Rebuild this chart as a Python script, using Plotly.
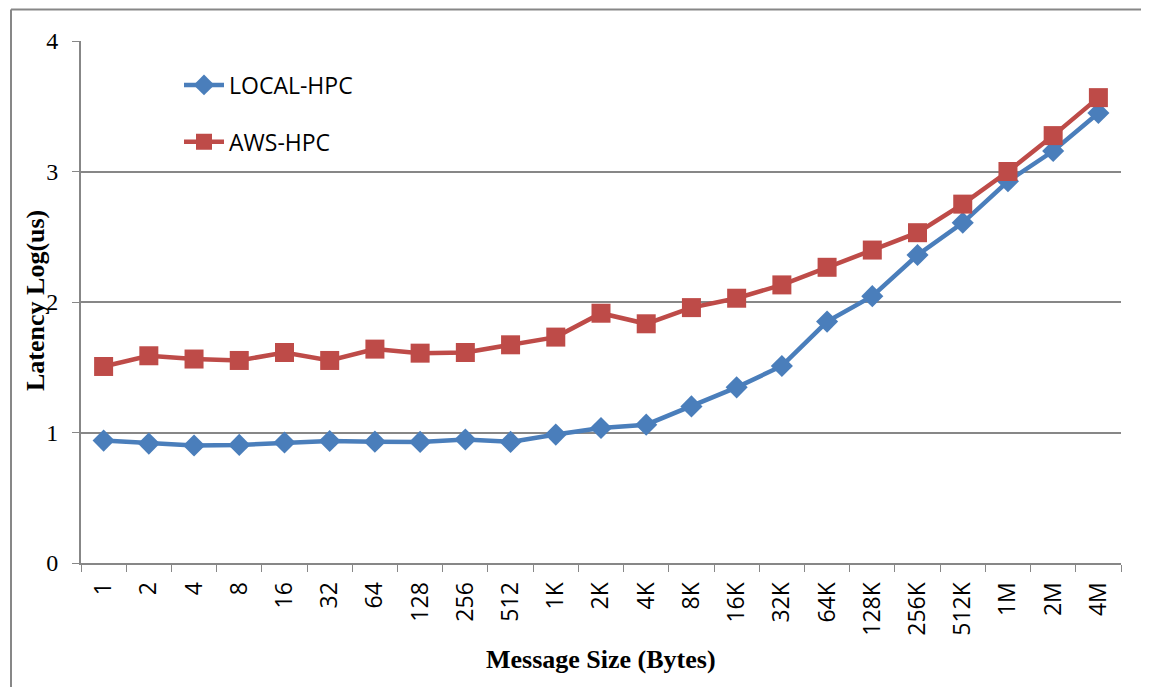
import plotly.graph_objects as go

categories = ["1", "2", "4", "8", "16", "32", "64", "128", "256", "512",
              "1K", "2K", "4K", "8K", "16K", "32K", "64K", "128K", "256K",
              "512K", "1M", "2M", "4M"]
local_hpc = [0.938, 0.915, 0.90, 0.905, 0.923, 0.935, 0.93, 0.928, 0.946, 0.928,
             0.984, 1.035, 1.06, 1.20, 1.346, 1.51, 1.85, 2.045, 2.36,
             2.607, 2.925, 3.157, 3.448]
aws_hpc = [1.506, 1.588, 1.563, 1.552, 1.613, 1.552, 1.639, 1.608, 1.613, 1.672,
           1.731, 1.914, 1.833, 1.957, 2.029, 2.131, 2.266, 2.398, 2.531,
           2.75, 3.0, 3.275, 3.566]
y_ticks = [0, 1, 2, 3, 4]

BLUE = "#4A7EBB"
RED = "#BE4B48"
GRID = "#878787"
SANS = "Open Sans, Noto Sans, sans-serif"
SERIF = "Liberation Serif, Times New Roman, serif"

fig = go.Figure()
fig.add_trace(go.Scatter(
    x=categories, y=local_hpc, name="LOCAL-HPC", mode="lines+markers",
    legendgroup="a",
    line=dict(color=BLUE, width=4.5),
    marker=dict(symbol="diamond", size=17, color=BLUE),
))
fig.add_trace(go.Scatter(
    x=categories, y=aws_hpc, name="AWS-HPC", mode="lines+markers",
    legendgroup="b",
    line=dict(color=RED, width=4.5),
    marker=dict(symbol="square", size=19, color=RED),
))

# page body has an 8px margin; figure sized to fit the window without scrollbars
W, H = 1133, 679
L, T = 73, 32.5
pw, ph = 1040, 523
R = W - L - pw
B = H - T - ph

fig.update_layout(
    width=W, height=H,
    margin=dict(l=L, r=R, t=T, b=B, autoexpand=False),
    paper_bgcolor="white", plot_bgcolor="white",
    showlegend=True,
    legend=dict(
        x=(171 - L) / pw, y=1 - (55 - T) / ph, xanchor="left", yanchor="top",
        font=dict(family=SANS, size=23, color="black"),
        bgcolor="rgba(0,0,0,0)", tracegroupgap=24, itemwidth=40,
    ),
    xaxis=dict(
        type="category", categoryorder="array", categoryarray=categories,
        tickangle=-90, ticks="outside", ticklen=7, tickcolor=GRID,
        tickson="boundaries", ticklabelstandoff=8,
        showline=True, linecolor=GRID, linewidth=2,
        showgrid=False, zeroline=False,
        tickfont=dict(family=SANS, size=23, color="black"),
        range=[-0.5, len(categories) - 0.5],
    ),
    yaxis=dict(
        range=[0, 4], tickvals=y_ticks, ticks="outside", ticklen=7, tickcolor=GRID,
        ticklabelstandoff=9,
        showline=True, linecolor=GRID, linewidth=2,
        showgrid=True, gridcolor=GRID, gridwidth=2, zeroline=False,
        tickfont=dict(family=SERIF, size=24, color="black"),
    ),
    annotations=[
        dict(text="<b>Message Size (Bytes)</b>", xref="paper", yref="paper",
             x=(593 - L) / pw, y=(T + ph - 652) / ph, xanchor="center", yanchor="middle",
             showarrow=False, font=dict(family=SERIF, size=26, color="black")),
        dict(text="<b>Latency Log(us)</b>", xref="paper", yref="paper",
             x=(27 - L) / pw, y=1 - (293 - T) / ph, xanchor="center", yanchor="middle",
             textangle=-90, showarrow=False,
             font=dict(family=SERIF, size=26, color="black")),
    ],
)

# outer chart frame (left and top edges visible)
fx0 = (3 - L) / pw
fy1 = 1 + (T - 1) / ph
fig.add_shape(type="line", xref="paper", yref="paper", x0=fx0, x1=fx0, y0=fy1, y1=-0.5,
              line=dict(color=GRID, width=2))
fig.add_shape(type="line", xref="paper", yref="paper", x0=fx0, x1=1 + R / pw, y0=fy1, y1=fy1,
              line=dict(color=GRID, width=2))

fig.write_html("out.html")
